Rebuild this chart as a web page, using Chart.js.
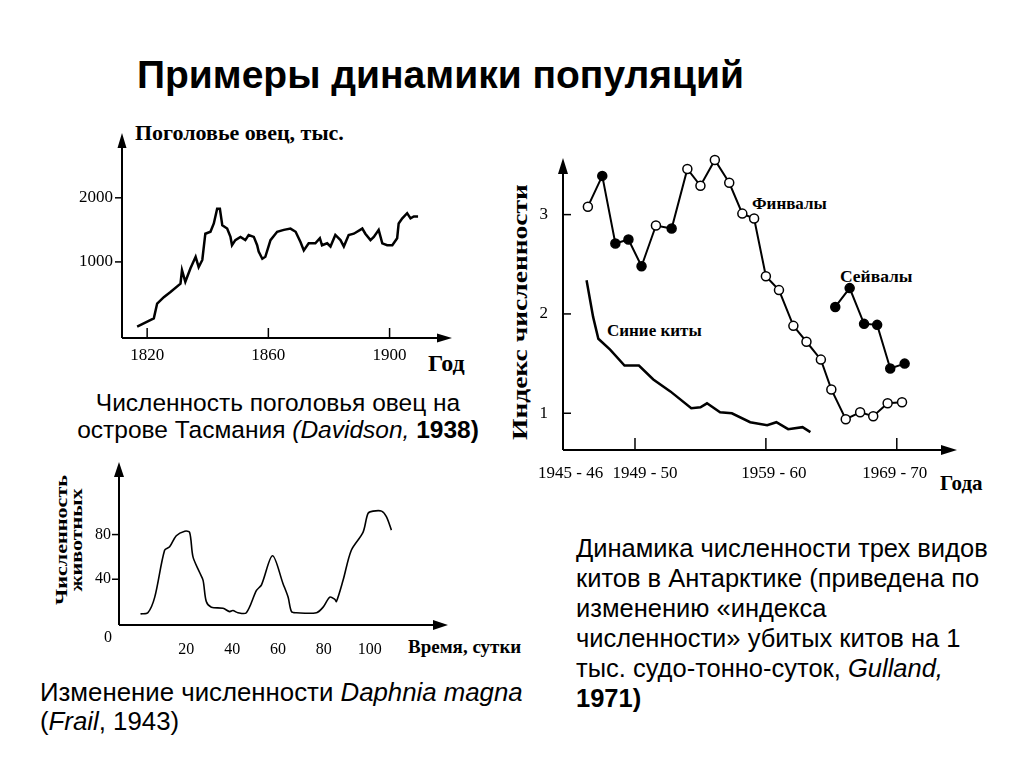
<!DOCTYPE html>
<html lang="ru">
<head>
<meta charset="UTF-8">
<title>Примеры динамики популяций</title>
<script src="https://cdn.jsdelivr.net/npm/chart.js"></script>
<style>
  body { margin: 0; width: 1024px; height: 768px; background: #fff; position: relative; overflow: hidden;
         font-family: "Liberation Sans", Arial, sans-serif; color: #000; }
  .abs { position: absolute; white-space: nowrap; }
  .ser { font-family: "Liberation Serif", "Times New Roman", serif; font-weight: bold; }
  canvas { position: absolute; }
</style>
</head>
<body>

<div class="abs" style="left:137px; top:53px; font-size:39px; font-weight:bold;">Примеры динамики популяций</div>

<!-- подписи графика овец -->
<div class="abs ser" style="left:135px; top:120px; font-size:22px;">Поголовье овец, тыс.</div>
<div class="abs ser" style="left:428px; top:350px; font-size:24px;">Год</div>
<div class="abs" style="left:278px; top:389px; transform:translateX(-50%); font-size:24.5px; line-height:27px; text-align:center;">
  Численность поголовья овец на<br>острове Тасмания <i>(Davidson,</i> <b>1938)</b>
</div>

<!-- подписи графика китов -->
<div class="abs ser" style="left:520px; top:312px; font-size:22px; transform:translate(-50%,-50%) rotate(-90deg) scaleX(1.25);">Индекс численности</div>
<div class="abs ser" style="left:940px; top:471px; font-size:21px;">Года</div>
<div class="abs ser" style="left:752px; top:194px; font-size:17px;">Финвалы</div>
<div class="abs ser" style="left:840px; top:266px; font-size:17.5px;">Сейвалы</div>
<div class="abs ser" style="left:607px; top:321px; font-size:17px;">Синие киты</div>
<div class="abs" style="left:576px; top:533px; font-size:25.5px; line-height:30px;">
  Динамика численности трех видов<br>китов в Антарктике (приведена по<br>изменению «индекса<br>численности» убитых китов на 1<br>тыс. судо-тонно-суток, <i>Gulland,</i><br><b>1971)</b>
</div>

<!-- подписи графика дафний -->
<div class="abs ser" style="left:69px; top:540px; font-size:17px; line-height:15px; text-align:center; transform:translate(-50%,-50%) rotate(-90deg) scaleX(1.3);">Численность<br>животных</div>
<div class="abs ser" style="left:408px; top:636px; font-size:19px;">Время, сутки</div>
<div class="abs" style="left:40px; top:678px; font-size:25.8px; line-height:29px;">
  Изменение численности <i>Daphnia magna</i><br>(<i>Frail</i>, 1943)
</div>

<canvas id="ovcy" width="440" height="270" style="left:50px; top:110px;"></canvas>
<canvas id="kity" width="480" height="360" style="left:530px; top:140px;"></canvas>
<canvas id="dafnii" width="390" height="220" style="left:80px; top:450px;"></canvas>

<script>
// ===== Овцы, Тасмания =====
const sheepYears = [1816.7, 1822.2, 1823.3, 1825.5, 1827.7, 1831, 1831.5, 1832.6, 1834.3, 1836, 1837, 1838.2,
  1839.2, 1840.9, 1842, 1843.1, 1844, 1844.8, 1846.4, 1847.5, 1848, 1849.1, 1850.8, 1852.4, 1853.5, 1855.2,
  1856.3, 1856.8, 1858, 1859, 1860.7, 1862.9, 1865.1, 1867.3, 1869, 1870.6, 1871.7, 1873.3, 1875.5, 1877,
  1877.7, 1879.4, 1880.5, 1882.1, 1883.8, 1884.9, 1886.5, 1888.2, 1891, 1892, 1893.7, 1894.8, 1896.4, 1897.6,
  1899.2, 1900.9, 1902.5, 1903, 1904.2, 1905.8, 1906.9, 1908, 1909.4];
const sheepHeads = [-10, 120, 350, 450, 530, 660, 870, 690, 900, 1080, 920, 1030,
  1440, 1470, 1600, 1830, 1830, 1570, 1520, 1390, 1260, 1340, 1390, 1340, 1420, 1390,
  1260, 1160, 1050, 1080, 1340, 1470, 1500, 1520, 1470, 1310, 1180, 1290, 1290, 1370,
  1260, 1290, 1240, 1420, 1340, 1240, 1420, 1440, 1520, 1440, 1340, 1390, 1500, 1290,
  1260, 1260, 1370, 1600, 1680, 1760, 1680, 1710, 1710];
const sheepXTicks = [1820, 1860, 1900];
const sheepYTicks = [1000, 2000];

// ===== Киты, Антарктика =====
const finYears = [1945.4, 1946.5, 1947.5, 1948.5, 1949.5, 1950.6, 1951.8, 1953, 1954, 1955.1, 1956.2, 1957.2,
  1958.1, 1959, 1960, 1961.1, 1962.1, 1963.2, 1964, 1965.1, 1966.2, 1967.2, 1968.3, 1969.4];
const finIndex = [3.08, 3.39, 2.71, 2.75, 2.48, 2.89, 2.86, 3.46, 3.29, 3.55, 3.32, 3.01,
  2.96, 2.38, 2.24, 1.88, 1.72, 1.54, 1.24, 0.94, 1.01, 0.97, 1.10, 1.11];
const finFilled = [1, 2, 3, 4, 6]; // какие точки финвалов залиты
const seiYears = [1964.3, 1965.4, 1966.5, 1967.5, 1968.5, 1969.6];
const seiIndex = [2.07, 2.26, 1.90, 1.89, 1.45, 1.50];
const blueYears = [1945.3, 1945.8, 1946.2, 1947.1, 1948.2, 1949.3, 1950.4, 1951.7, 1953.3, 1954, 1954.5,
  1955.5, 1956.4, 1957.8, 1959.1, 1959.8, 1960.7, 1961.8, 1962.4];
const blueIndex = [2.34, 1.97, 1.75, 1.64, 1.48, 1.48, 1.34, 1.22, 1.05, 1.06, 1.10,
  1.01, 1.00, 0.91, 0.88, 0.91, 0.84, 0.86, 0.81];
const whaleXTicks = [1945, 1949, 1959, 1969];
const whaleXLabels = ['1945 - 46', '1949 - 50', '1959 - 60', '1969 - 70'];
const whaleYTicks = [1, 2, 3];

// ===== Daphnia magna =====
const daphDays = [0, 3.2, 6.2, 10.5, 12.7, 15.6, 19.3, 21.4, 22.9, 25.8, 27.3, 28.7, 30.9, 36, 38.9, 40.3,
  42.5, 46.2, 50.6, 52.8, 57.6, 62.2, 64.4, 65.9, 68, 76.8, 79.7, 82.6, 84.8, 85.5, 88.4, 92, 97.1, 99.3,
  101.5, 105.2, 107.3, 109.5];
const daphCount = [9, 10, 24, 66, 69, 79, 83, 82, 60, 46, 39, 20, 15, 14, 11, 12,
  10, 10, 30, 35, 61, 36, 24, 11, 10, 10, 15, 24, 22, 20, 39, 66, 82, 99,
  101, 101, 96, 84];
const daphXTicks = [20, 40, 60, 80, 100];
const daphYTicks = [40, 80];

const pts = (xs, ys) => xs.map((v, i) => ({ x: v, y: ys[i] }));

// рисуем оси со стрелками, засечки и подписи делений по шкалам графика
function axesPlugin(o) {
  return {
    id: 'handAxes',
    afterDatasetsDraw(chart) {
      const { ctx, chartArea: a, scales: { x, y } } = chart;
      ctx.save();
      ctx.strokeStyle = '#000';
      ctx.fillStyle = '#000';
      ctx.lineWidth = 2;
      ctx.beginPath();
      ctx.moveTo(a.left, a.bottom); ctx.lineTo(a.left, a.top + o.arrow);
      ctx.moveTo(a.left, a.bottom); ctx.lineTo(a.right - o.arrow, a.bottom);
      ctx.stroke();
      ctx.beginPath();
      ctx.moveTo(a.left, a.top);
      ctx.lineTo(a.left - o.arrowW, a.top + o.arrow);
      ctx.lineTo(a.left + o.arrowW, a.top + o.arrow);
      ctx.closePath();
      ctx.moveTo(a.right, a.bottom);
      ctx.lineTo(a.right - o.arrow, a.bottom - o.arrowW);
      ctx.lineTo(a.right - o.arrow, a.bottom + o.arrowW);
      ctx.closePath();
      ctx.fill();

      ctx.font = o.font;
      ctx.textBaseline = 'middle';
      ctx.lineWidth = 1.5;
      // деления оси X
      ctx.textAlign = 'center';
      o.xTicks.forEach((v, i) => {
        const px = x.getPixelForValue(v);
        if (o.xMark && !(o.xSkip || []).includes(v)) {
          ctx.beginPath();
          ctx.moveTo(px, a.bottom);
          ctx.lineTo(px, a.bottom - o.xMark);
          ctx.stroke();
        }
        const nudge = o.xNudge ? o.xNudge[i] : 0;
        ctx.fillText(o.xLabels ? o.xLabels[i] : String(v), px + nudge, a.bottom + o.xGap);
      });
      // деления оси Y
      ctx.textAlign = 'right';
      o.yTicks.forEach(v => {
        const py = y.getPixelForValue(v);
        ctx.beginPath();
        ctx.moveTo(a.left, py);
        ctx.lineTo(a.left + o.yMark, py);
        ctx.stroke();
        ctx.fillText(String(v), a.left - o.yGap, py);
      });
      if (o.origin) {
        ctx.textAlign = 'center';
        ctx.fillText(o.origin, a.left - 11, a.bottom + 13);
      }
      ctx.restore();
    }
  };
}

function baseOptions(xr, yr, pad) {
  return {
    responsive: false,
    animation: false,
    layout: { padding: pad },
    plugins: { legend: { display: false }, tooltip: { enabled: false } },
    scales: {
      x: { type: 'linear', display: false, min: xr[0], max: xr[1] },
      y: { type: 'linear', display: false, min: yr[0], max: yr[1] }
    }
  };
}

new Chart(document.getElementById('ovcy'), {
  type: 'line',
  data: {
    datasets: [{
      data: pts(sheepYears, sheepHeads),
      borderColor: '#000', borderWidth: 2.5, pointRadius: 0, tension: 0
    }]
  },
  options: baseOptions([1811.7, 1920.6], [-187, 3011], { left: 72, right: 38, top: 23, bottom: 42 }),
  plugins: [axesPlugin({
    arrow: 15, arrowW: 4.5, font: '17px "Liberation Serif"',
    xTicks: sheepXTicks, xMark: 10, xGap: 18,
    yTicks: sheepYTicks, yMark: -7, yGap: 9
  })]
});

new Chart(document.getElementById('kity'), {
  type: 'line',
  data: {
    datasets: [
      {
        data: pts(finYears, finIndex), clip: false,
        borderColor: '#000', borderWidth: 2, tension: 0,
        pointRadius: 4.5, pointBorderWidth: 1.5, pointBorderColor: '#000',
        pointBackgroundColor: c => finFilled.includes(c.dataIndex) ? '#000' : '#fff'
      },
      {
        data: pts(seiYears, seiIndex), clip: false,
        borderColor: '#000', borderWidth: 2, tension: 0,
        pointRadius: 4.5, pointBorderWidth: 1.5, pointBorderColor: '#000', pointBackgroundColor: '#000'
      },
      {
        data: pts(blueYears, blueIndex),
        borderColor: '#000', borderWidth: 2.5, tension: 0, pointRadius: 0
      }
    ]
  },
  options: baseOptions([1943.5, 1973.6], [0.63, 3.57], { left: 33, right: 53, top: 18, bottom: 50 }),
  plugins: [axesPlugin({
    arrow: 16, arrowW: 5, font: '17px "Liberation Serif"',
    xTicks: whaleXTicks, xLabels: whaleXLabels, xNudge: [-12, 10, 8, -2], xSkip: [1945], xMark: 12, xGap: 24,
    yTicks: whaleYTicks, yMark: 8, yGap: 15
  })]
});

new Chart(document.getElementById('dafnii'), {
  type: 'line',
  data: {
    datasets: [{
      data: pts(daphDays, daphCount),
      borderColor: '#000', borderWidth: 1.6, pointRadius: 0, tension: 0.3
    }]
  },
  options: baseOptions([-9.4, 134.2], [-1, 145], { left: 39, right: 22, top: 12, bottom: 45 }),
  plugins: [axesPlugin({
    arrow: 15, arrowW: 5, font: '16px "Liberation Serif"',
    xTicks: daphXTicks, xMark: 0, xGap: 25,
    yTicks: daphYTicks, yMark: -7, yGap: 8, origin: '0'
  })]
});
</script>
</body>
</html>
